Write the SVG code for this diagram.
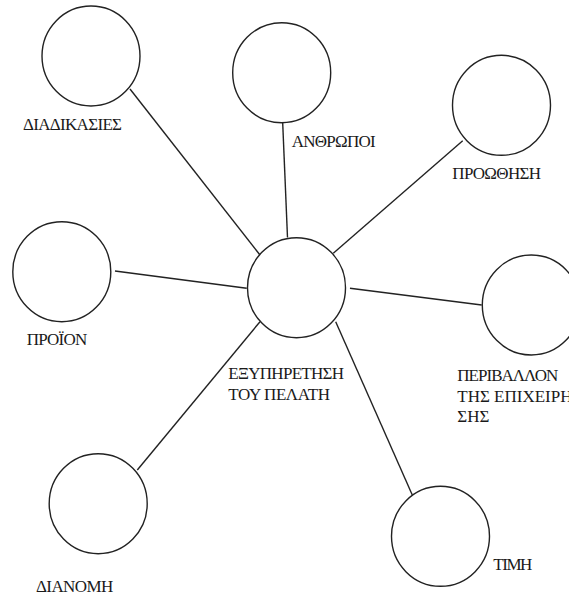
<svg xmlns="http://www.w3.org/2000/svg" width="569" height="596" viewBox="0 0 569 596">
<style>
.n{fill:none;stroke:#222;stroke-width:1.4}
.c line{stroke:#222;stroke-width:1.4}
text{font-family:"Liberation Serif","DejaVu Serif","Times New Roman",serif;font-size:17px;fill:#1a1a1a}
</style>
<rect width="569" height="596" fill="#fff"/>
<g id="connectors" class="c">
<line x1="130" y1="89" x2="260" y2="255"/>
<line x1="282.7" y1="123" x2="287.5" y2="237.5"/>
<line x1="462.7" y1="140.7" x2="333.3" y2="253.3"/>
<line x1="115" y1="271" x2="246.7" y2="288.3"/>
<line x1="350" y1="288.3" x2="481.7" y2="305"/>
<line x1="335.7" y1="321.7" x2="412.3" y2="495"/>
<line x1="137.3" y1="470" x2="260" y2="321.7"/>
</g>
<g id="center">
<ellipse class="n" cx="296.5" cy="287.7" rx="49" ry="50"/>
<text x="228.3" y="379" textLength="115.7">ΕΞΥΠΗΡΕΤΗΣΗ</text>
<text x="228.3" y="400" textLength="101.7">ΤΟΥ ΠΕΛΑΤΗ</text>
</g>
<g id="diadikasies">
<ellipse class="n" cx="91" cy="56" rx="49" ry="50"/>
<text x="23" y="130" textLength="99">ΔΙΑΔΙΚΑΣΙΕΣ</text>
</g>
<g id="anthropoi">
<ellipse class="n" cx="281.7" cy="72.7" rx="49" ry="50"/>
<text x="291.7" y="147" textLength="84">ΑΝΘΡΩΠΟΙ</text>
</g>
<g id="proothisi">
<ellipse class="n" cx="501.5" cy="105.3" rx="49" ry="50"/>
<text x="452.3" y="179" textLength="88.7">ΠΡΟΩΘΗΣΗ</text>
</g>
<g id="proion">
<ellipse class="n" cx="61.8" cy="271.7" rx="49" ry="50"/>
<text x="26.7" y="345" textLength="60.6">ΠΡΟΪΟΝ</text>
</g>
<g id="perivallon">
<ellipse class="n" cx="531.3" cy="305" rx="49" ry="50"/>
<text x="457.3" y="381" textLength="101">ΠΕΡΙΒΑΛΛΟΝ</text>
<text x="457.3" y="401.7">ΤΗΣ ΕΠΙΧΕΙΡΗ-</text>
<text x="457.3" y="421.7">ΣΗΣ</text>
</g>
<g id="dianomi">
<ellipse class="n" cx="98.2" cy="503.7" rx="49" ry="50"/>
<text x="36" y="592" textLength="77.3">ΔΙΑΝΟΜΗ</text>
</g>
<g id="timi">
<ellipse class="n" cx="440.5" cy="536.3" rx="49" ry="50"/>
<text x="493.3" y="570" textLength="39">ΤΙΜΗ</text>
</g>
</svg>
